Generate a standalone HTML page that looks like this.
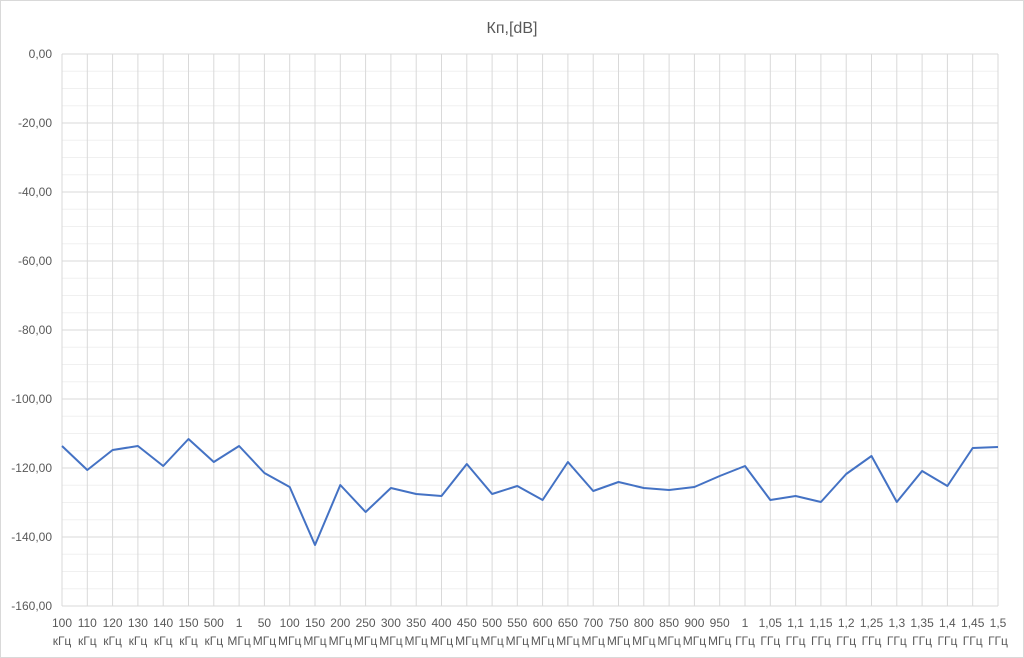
<!DOCTYPE html>
<html><head><meta charset="utf-8"><style>
html,body{margin:0;padding:0;background:#fff}
svg{display:block}
text{font-family:"Liberation Sans","DejaVu Sans",sans-serif;fill:#595959;font-size:12px}
</style></head><body>
<svg width="1024" height="658" viewBox="0 0 1024 658" xmlns="http://www.w3.org/2000/svg">
<rect x="0.5" y="0.5" width="1023" height="657" fill="#fff" stroke="#d9d9d9"/>
<text x="512" y="33" style="font-size:16px" text-anchor="middle">Кп,[dB]</text>
<path stroke="#f0f0f0" stroke-width="1" fill="none" d="M62 71.25H998M62 88.5H998M62 105.75H998M62 140.25H998M62 157.5H998M62 174.75H998M62 209.25H998M62 226.5H998M62 243.75H998M62 278.25H998M62 295.5H998M62 312.75H998M62 347.25H998M62 364.5H998M62 381.75H998M62 416.25H998M62 433.5H998M62 450.75H998M62 485.25H998M62 502.5H998M62 519.75H998M62 554.25H998M62 571.5H998M62 588.75H998"/>
<path stroke="#d9d9d9" stroke-width="1" fill="none" d="M62 54H998M62 123H998M62 192H998M62 261H998M62 330H998M62 399H998M62 468H998M62 537H998M62 606H998
M62 54V606M87.3 54V606M112.6 54V606M137.9 54V606M163.2 54V606M188.5 54V606M213.8 54V606M239.1 54V606M264.4 54V606M289.7 54V606M315 54V606M340.3 54V606M365.6 54V606M390.9 54V606M416.2 54V606M441.5 54V606M466.8 54V606M492.1 54V606M517.3 54V606M542.6 54V606M567.9 54V606M593.2 54V606M618.5 54V606M643.8 54V606M669.1 54V606M694.4 54V606M719.7 54V606M745 54V606M770.3 54V606M795.6 54V606M820.9 54V606M846.2 54V606M871.5 54V606M896.8 54V606M922.1 54V606M947.4 54V606M972.7 54V606M998 54V606"/>
<g text-anchor="end">
<text x="52" y="58">0,00</text>
<text x="52" y="127">-20,00</text>
<text x="52" y="196">-40,00</text>
<text x="52" y="265">-60,00</text>
<text x="52" y="334">-80,00</text>
<text x="52" y="403">-100,00</text>
<text x="52" y="472">-120,00</text>
<text x="52" y="541">-140,00</text>
<text x="52" y="610">-160,00</text>
</g>
<g text-anchor="middle">
<text x="62" y="627">100</text><text x="62" y="645">кГц</text>
<text x="87.3" y="627">110</text><text x="87.3" y="645">кГц</text>
<text x="112.6" y="627">120</text><text x="112.6" y="645">кГц</text>
<text x="137.9" y="627">130</text><text x="137.9" y="645">кГц</text>
<text x="163.2" y="627">140</text><text x="163.2" y="645">кГц</text>
<text x="188.5" y="627">150</text><text x="188.5" y="645">кГц</text>
<text x="213.8" y="627">500</text><text x="213.8" y="645">кГц</text>
<text x="239.1" y="627">1</text><text x="239.1" y="645">МГц</text>
<text x="264.4" y="627">50</text><text x="264.4" y="645">МГц</text>
<text x="289.7" y="627">100</text><text x="289.7" y="645">МГц</text>
<text x="315" y="627">150</text><text x="315" y="645">МГц</text>
<text x="340.3" y="627">200</text><text x="340.3" y="645">МГц</text>
<text x="365.6" y="627">250</text><text x="365.6" y="645">МГц</text>
<text x="390.9" y="627">300</text><text x="390.9" y="645">МГц</text>
<text x="416.2" y="627">350</text><text x="416.2" y="645">МГц</text>
<text x="441.5" y="627">400</text><text x="441.5" y="645">МГц</text>
<text x="466.8" y="627">450</text><text x="466.8" y="645">МГц</text>
<text x="492.1" y="627">500</text><text x="492.1" y="645">МГц</text>
<text x="517.3" y="627">550</text><text x="517.3" y="645">МГц</text>
<text x="542.6" y="627">600</text><text x="542.6" y="645">МГц</text>
<text x="567.9" y="627">650</text><text x="567.9" y="645">МГц</text>
<text x="593.2" y="627">700</text><text x="593.2" y="645">МГц</text>
<text x="618.5" y="627">750</text><text x="618.5" y="645">МГц</text>
<text x="643.8" y="627">800</text><text x="643.8" y="645">МГц</text>
<text x="669.1" y="627">850</text><text x="669.1" y="645">МГц</text>
<text x="694.4" y="627">900</text><text x="694.4" y="645">МГц</text>
<text x="719.7" y="627">950</text><text x="719.7" y="645">МГц</text>
<text x="745" y="627">1</text><text x="745" y="645">ГГц</text>
<text x="770.3" y="627">1,05</text><text x="770.3" y="645">ГГц</text>
<text x="795.6" y="627">1,1</text><text x="795.6" y="645">ГГц</text>
<text x="820.9" y="627">1,15</text><text x="820.9" y="645">ГГц</text>
<text x="846.2" y="627">1,2</text><text x="846.2" y="645">ГГц</text>
<text x="871.5" y="627">1,25</text><text x="871.5" y="645">ГГц</text>
<text x="896.8" y="627">1,3</text><text x="896.8" y="645">ГГц</text>
<text x="922.1" y="627">1,35</text><text x="922.1" y="645">ГГц</text>
<text x="947.4" y="627">1,4</text><text x="947.4" y="645">ГГц</text>
<text x="972.7" y="627">1,45</text><text x="972.7" y="645">ГГц</text>
<text x="998" y="627">1,5</text><text x="998" y="645">ГГц</text>
</g>
<polyline fill="none" stroke="#4472c4" stroke-width="2" stroke-linejoin="round" points="62,446 87.3,470 112.6,450 137.9,446 163.2,466 188.5,439 213.8,462 239.1,446 264.4,473 289.7,487 315,545 340.3,485 365.6,512 390.9,488 416.2,494 441.5,496 466.8,464 492.1,494 517.3,486 542.6,500 567.9,462 593.2,491 618.5,482 643.8,488 669.1,490 694.4,487 719.7,476 745,466 770.3,500 795.6,496 820.9,502 846.2,474 871.5,456 896.8,502 922.1,471 947.4,486 972.7,448 998,447"/>
</svg>
</body></html>
